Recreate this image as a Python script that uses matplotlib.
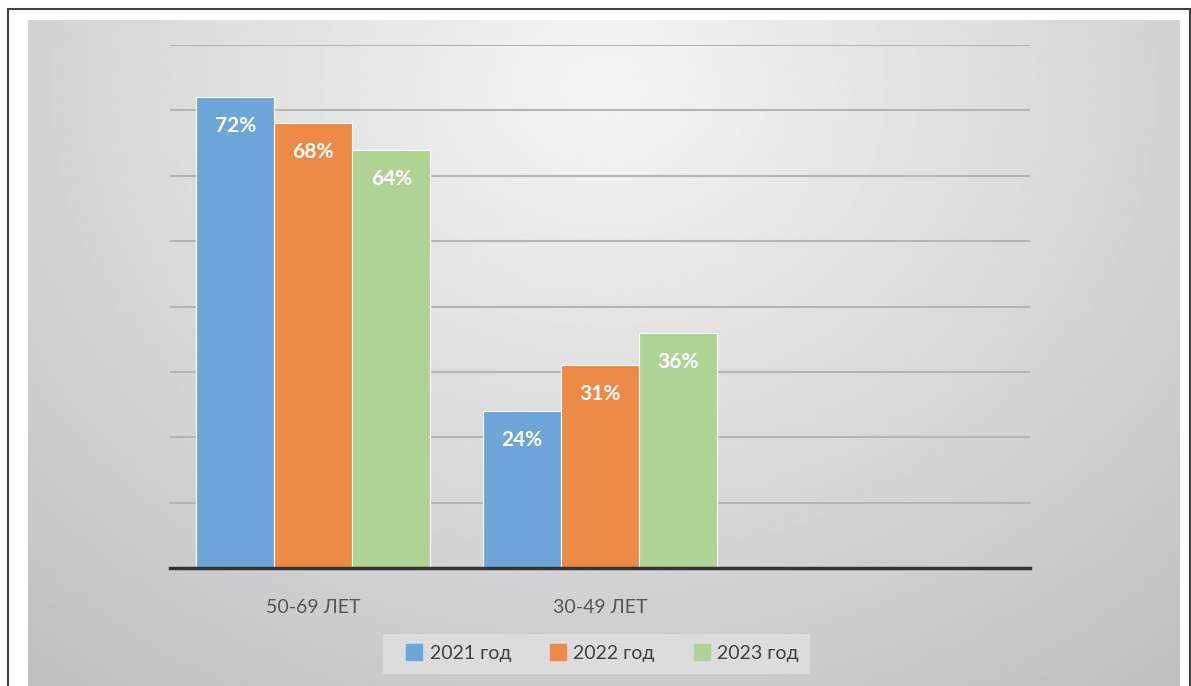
import numpy as np
import matplotlib.pyplot as plt
from matplotlib.patches import Rectangle

plt.rcParams['font.family'] = ['Lato', 'Open Sans', 'DejaVu Sans']

categories = ['50-69 ЛЕТ', '30-49 ЛЕТ', '']
series = ['2021 год', '2022 год', '2023 год']
v2021 = [72, 24, np.nan]
v2022 = [68, 31, np.nan]
v2023 = [64, 36, np.nan]
colors = ['#6ea6d9', '#ee8a48', '#aed394']

fig = plt.figure(figsize=(11.91, 6.86), dpi=100)

# серый фон с градиентом
bg = fig.add_axes([28/1191, 0, 1152/1191, 1 - 20/686])
yy, xx = np.mgrid[0:1:300j, 0:1:500j]
r = np.sqrt(((xx - 0.5) / 0.75) ** 2 + ((yy - 0.1) / 1.1) ** 2)
bg.imshow(0.96 - 0.2 * r, cmap='gray', vmin=0, vmax=1, aspect='auto',
          extent=[0, 1, 0, 1], origin='upper')
bg.axis('off')

# рамка
fig.patches.append(Rectangle((8/1191, -0.01), 1182/1191, 1 - 9/686 + 0.01,
                             transform=fig.transFigure, fill=False,
                             edgecolor='#404040', lw=1.5))

ax = fig.add_axes([170/1191, 1 - 568/686, 860/1191, (568 - 45)/686])
ax.patch.set_alpha(0)
x = np.arange(len(categories))
w = 0.272
for i, (vals, lab) in enumerate(zip([v2021, v2022, v2023], series)):
    bars = ax.bar(x + (i - 1) * w, vals, w, color=colors[i], label=lab,
                  edgecolor='white', lw=0.8, zorder=3)
    for b, v in zip(bars, vals):
        if not np.isnan(v):
            ax.text(b.get_x() + b.get_width()/2, v - 2.9, f'{v}%',
                    ha='center', va='top', color='white',
                    fontsize=15, fontweight='bold', zorder=4)

ax.set_xlim(-0.5, 2.5)
ax.set_ylim(0, 80)
ax.set_yticks(range(10, 81, 10))
ax.grid(axis='y', color='#b5b5b5', lw=1.5, zorder=0)
ax.tick_params(left=False, labelleft=False, bottom=False)
for s in ['top', 'right', 'left']:
    ax.spines[s].set_visible(False)
ax.spines['bottom'].set_color('#333333')
ax.spines['bottom'].set_linewidth(2.5)
ax.spines['bottom'].set_zorder(5)
ax.set_xticks(x)
ax.set_xticklabels(categories, fontsize=14, color='#555555')
ax.tick_params(axis='x', pad=19)

handles = [plt.Line2D([], [], marker='s', ls='', color=c, markersize=11)
           for c in colors]
leg = fig.legend(handles, series, loc='center', bbox_to_anchor=(0.501, 0.047),
                 ncol=3, fontsize=14, frameon=True, handletextpad=-0.2,
                 columnspacing=1.4, borderpad=0.6, fancybox=False)
leg.get_frame().set_facecolor('#e3e3e3')
leg.get_frame().set_edgecolor('none')
leg.get_frame().set_alpha(0.7)
for t in leg.get_texts():
    t.set_color('#404040')

fig.savefig('out.png', dpi=100)
